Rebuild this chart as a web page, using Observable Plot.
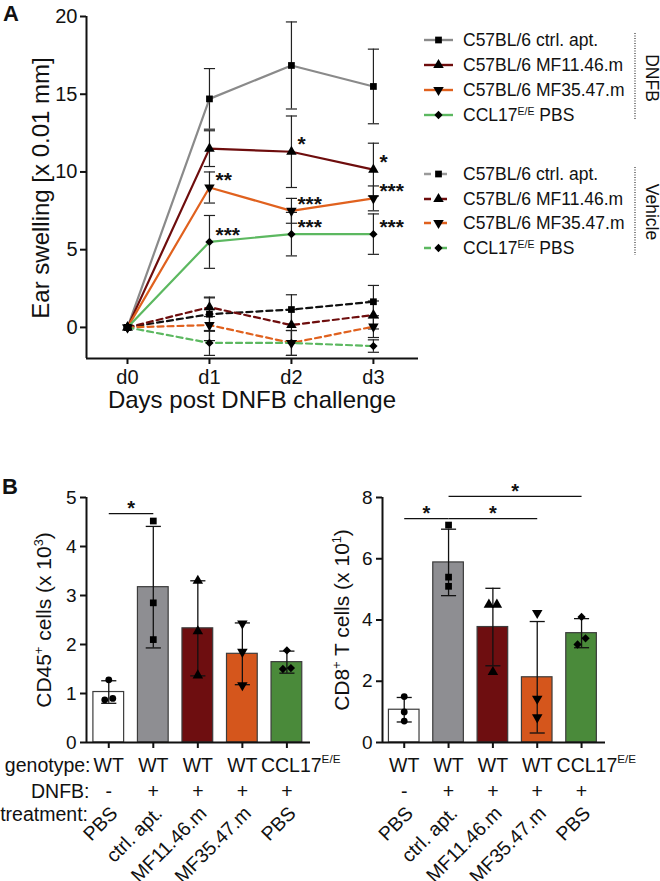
<!DOCTYPE html>
<html><head><meta charset="utf-8">
<script src="https://cdn.jsdelivr.net/npm/d3@7"></script>
<script src="https://cdn.jsdelivr.net/npm/@observablehq/plot@0.6"></script>
<style>
body{margin:0;background:#fff;}
#fig{position:relative;width:660px;height:881px;font-family:'Liberation Sans',Arial,Helvetica,sans-serif;overflow:hidden;background:#fff;color:#111;}
.abs{position:absolute;line-height:1;white-space:nowrap;}
.c{transform:translate(-50%,-50%);}
.l{transform:translate(0,-50%);}
.rot{transform:translate(-50%,-50%) rotate(-90deg);}
.vert{writing-mode:vertical-rl;transform:translate(-50%,-50%);}
sup{font-size:0.6em;line-height:0;vertical-align:0.6em;}
svg{overflow:visible;}
</style></head><body><div id="fig"></div>
<script>
const FONT = "'Liberation Sans', Arial, Helvetica, sans-serif";

// ---------- Panel A data ----------
const days = ["d0", "d1", "d2", "d3"];
const seriesLabels = ["C57BL/6 ctrl. apt.", "C57BL/6 MF11.46.m", "C57BL/6 MF35.47.m", "CCL17^{E/E} PBS"];
const dnfbColors = ["#8a8a8a", "#6e0d0d", "#e0611e", "#5cb860"];
const vehicleColors = ["#111111", "#6e0d0d", "#e0611e", "#5cb860"];
const vehicleLegendColors = ["#9a9a9a", "#6e0d0d", "#e0611e", "#5cb860"];

const dnfbCtrl = [0, 14.7, 16.85, 15.5];   const dnfbCtrlSd = [0, 1.95, 2.8, 2.4];
const dnfbMF11 = [0, 11.5, 11.3, 10.15];   const dnfbMF11Sd = [0, 1.15, 2.3, 1.7];
const dnfbMF35 = [0, 9.0, 7.5, 8.3];       const dnfbMF35Sd = [0, 1.0, 0.8, 0.8];
const dnfbCCL  = [0, 5.5, 6.0, 6.0];       const dnfbCCLSd  = [0, 1.7, 1.4, 1.3];
const vehCtrl  = [0, 0.85, 1.15, 1.65];    const vehCtrlSd  = [0, 1.1, 0.95, 1.05];
const vehMF11  = [0, 1.3, 0.15, 0.8];      const vehMF11Sd  = [0, 0.6, 1.0, 0.9];
const vehMF35  = [0, 0.15, -1.0, 0.05];    const vehMF35Sd  = [0, 1.0, 0.8, 0.7];
const vehCCL   = [0, -1.0, -1.0, -1.2];    const vehCCLSd   = [0, 0.8, 0.8, 0.4];

const starSeries = ["dMF35", "dCCL", "dMF11", "dMF35", "dCCL", "dMF11", "dMF35", "dCCL"];
const starDays   = [1, 1, 2, 2, 2, 3, 3, 3];
const starText   = ["**", "***", "*", "***", "***", "*", "***", "***"];

// ---------- Panel B data ----------
const genotypes  = ["WT", "WT", "WT", "WT", "CCL17^{E/E}"];
const dnfbSigns  = ["-", "+", "+", "+", "+"];
const treatments = ["PBS", "ctrl. apt.", "MF11.46.m", "MF35.47.m", "PBS"];
const barColors  = ["#ffffff", "#8e8e92", "#6e0e10", "#d5561c", "#4a8a3a"];

const cd45Mean   = [1.03, 3.17, 2.33, 1.81, 1.64];
const cd45Sd     = [0.23, 1.24, 0.97, 0.63, 0.225];
const cd45Points = [[1.28, 0.87, 0.9], [4.52, 2.85, 2.1], [3.3, 2.27, 1.37], [2.43, 1.85, 1.17], [1.88, 1.5, 1.52]];
const cd45SigFrom = [0], cd45SigTo = [1], cd45SigY = [4.67];

const cd8Mean   = [1.07, 5.88, 3.77, 2.13, 3.57];
const cd8Sd     = [0.4, 1.085, 1.265, 1.82, 0.475];
const cd8Points = [[1.5, 1.0, 0.7], [7.1, 5.4, 5.1], [4.5, 4.5, 2.3], [4.23, 1.43, 0.82], [4.1, 3.2, 3.4]];
const cd8SigFrom = [0, 1, 1], cd8SigTo = [1, 3, 4], cd8SigY = [7.31, 7.31, 8.04];

// ---------- helpers ----------
const symDefs = [
  {symbol: "square", rotate: 0, r: 3.8},
  {symbol: "triangle", rotate: 0, r: 3.9},
  {symbol: "triangle", rotate: 180, r: 3.9},
  {symbol: "square", rotate: 45, r: 3.3}
];
const symDefsB = [{symbol: "circle", rotate: 0, r: 3.4}, ...symDefs];

function richify(svg, size) {
  d3.select(svg).selectAll("text").each(function () {
    const s = this.textContent;
    if (!s.includes("^{")) return;
    const sel = d3.select(this);
    sel.text(null);
    const up = 0.42 * size;
    const re = /\^\{([^}]*)\}/g;
    let last = 0, m, shifted = false;
    while ((m = re.exec(s))) {
      if (m.index > last) { sel.append("tspan").attr("dy", shifted ? up + "px" : null).text(s.slice(last, m.index)); shifted = false; }
      sel.append("tspan").attr("dy", (-up) + "px").attr("font-size", (0.6 * size) + "px").text(m[1]);
      shifted = true; last = re.lastIndex;
    }
    if (last < s.length) sel.append("tspan").attr("dy", shifted ? up + "px" : null).text(s.slice(last));
  });
}
const toHtml = s => s.replace(/\^\{([^}]*)\}/g, "<sup>$1</sup>");

const fig = document.getElementById("fig");
function place(el, left, top) { el.style.position = "absolute"; el.style.left = left + "px"; el.style.top = top + "px"; fig.appendChild(el); }
function html(txt, cls, x, y, size, weight) {
  const d = document.createElement("div");
  d.className = "abs " + cls; d.innerHTML = txt;
  d.style.left = x + "px"; d.style.top = y + "px"; d.style.fontSize = size + "px";
  if (weight) d.style.fontWeight = weight;
  fig.appendChild(d);
}

// ---------- Panel A ----------
const seriesA = [
  {key: "dCtrl", group: "DNFB", s: 0, mean: dnfbCtrl, sd: dnfbCtrlSd, color: dnfbColors[0]},
  {key: "dMF11", group: "DNFB", s: 1, mean: dnfbMF11, sd: dnfbMF11Sd, color: dnfbColors[1]},
  {key: "dMF35", group: "DNFB", s: 2, mean: dnfbMF35, sd: dnfbMF35Sd, color: dnfbColors[2]},
  {key: "dCCL",  group: "DNFB", s: 3, mean: dnfbCCL,  sd: dnfbCCLSd,  color: dnfbColors[3]},
  {key: "vCtrl", group: "Vehicle", s: 0, mean: vehCtrl, sd: vehCtrlSd, color: vehicleColors[0]},
  {key: "vMF11", group: "Vehicle", s: 1, mean: vehMF11, sd: vehMF11Sd, color: vehicleColors[1]},
  {key: "vMF35", group: "Vehicle", s: 2, mean: vehMF35, sd: vehMF35Sd, color: vehicleColors[2]},
  {key: "vCCL",  group: "Vehicle", s: 3, mean: vehCCL,  sd: vehCCLSd,  color: vehicleColors[3]}
];
const rowsA = seriesA.flatMap(S => S.mean.map((v, j) => ({key: S.key, group: S.group, s: S.s, color: S.color, day: j, value: v, sd: S.sd[j]})));
const errA = rowsA.filter(d => d.sd > 0);
const starsA = starText.map((t, k) => {
  const r = rowsA.find(d => d.key === starSeries[k] && d.day === starDays[k]);
  return {day: r.day, value: r.value, t};
});
const capW = 0.068;

const plotA = Plot.plot({
  width: 430, height: 420,
  marginLeft: 86, marginTop: 16, marginBottom: 62, marginRight: 12,
  x: {domain: [-0.5, 3.55]},
  y: {domain: [-2, 20]},
  color: {type: "identity"},
  style: {fontFamily: FONT, fontSize: "20px", background: "transparent", color: "#111", overflow: "visible"},
  marks: [
    Plot.ruleX(errA, {x: "day", y1: d => d.value - d.sd, y2: d => d.value + d.sd, stroke: "#222", strokeWidth: 1.2}),
    Plot.link(errA, {x1: d => d.day - capW, x2: d => d.day + capW, y1: d => d.value + d.sd, y2: d => d.value + d.sd, stroke: "#222", strokeWidth: 1.2}),
    Plot.link(errA, {x1: d => d.day - capW, x2: d => d.day + capW, y1: d => d.value - d.sd, y2: d => d.value - d.sd, stroke: "#222", strokeWidth: 1.2}),
    Plot.line(rowsA.filter(d => d.group === "Vehicle"), {x: "day", y: "value", z: "key", stroke: "color", strokeWidth: 2.2, strokeDasharray: "6,4"}),
    Plot.line(rowsA.filter(d => d.group === "DNFB"), {x: "day", y: "value", z: "key", stroke: "color", strokeWidth: 2.2}),
    ...symDefs.map((sd, k) => Plot.dot(rowsA.filter(d => d.s === k), {x: "day", y: "value", symbol: sd.symbol, rotate: sd.rotate, r: sd.r, fill: "#000"})),
    Plot.text(starsA, {x: "day", y: "value", text: "t", textAnchor: "start", lineAnchor: "middle", dx: 6, dy: -7, fontSize: 21, fontWeight: "bold"}),
    Plot.ruleX([-0.5], {stroke: "#111", strokeWidth: 2}),
    Plot.ruleY([-2], {stroke: "#111", strokeWidth: 2}),
    Plot.axisY({ticks: [0, 5, 10, 15, 20], tickFormat: d3.format("d"), tickSize: 6, tickPadding: 3, fontSize: 20, strokeWidth: 2, label: null}),
    Plot.axisX({ticks: [0, 1, 2, 3], tickFormat: i => days[i], tickSize: 6, tickPadding: 5, fontSize: 20, strokeWidth: 2, label: null})
  ]
});
place(plotA, 0, 0);

// ---------- Legend ----------
const LEGFS = 17.5;
const leg = d3.create("svg").attr("width", 260).attr("height", 270).style("overflow", "visible");
const legY = [[40, 65, 90, 115], [174, 199, 223, 248]];
[0, 1].forEach(g => {
  seriesLabels.forEach((lab, k) => {
    const y = legY[g][k];
    const col = g === 0 ? dnfbColors[k] : vehicleLegendColors[k];
    leg.append("line").attr("x1", 24).attr("x2", 53).attr("y1", y).attr("y2", y)
      .attr("stroke", col).attr("stroke-width", 2.4).attr("stroke-dasharray", g === 0 ? null : "7,9");
    const sd = symDefs[k];
    const sym = sd.symbol === "square" ? d3.symbolSquare : d3.symbolTriangle;
    leg.append("path").attr("d", d3.symbol(sym, Math.PI * sd.r * sd.r)())
      .attr("transform", `translate(38.5,${y}) rotate(${sd.rotate})`).attr("fill", "#000");
    html(toHtml(lab), "l", 463, y + 1, LEGFS);
  });
});
leg.append("line").attr("x1", 235).attr("x2", 235).attr("y1", 33).attr("y2", 120).attr("stroke", "#333").attr("stroke-width", 1.2).attr("stroke-dasharray", "1,1.5");
leg.append("line").attr("x1", 235).attr("x2", 235).attr("y1", 167).attr("y2", 255).attr("stroke", "#333").attr("stroke-width", 1.2).attr("stroke-dasharray", "1,1.5");
place(leg.node(), 400, 0);
html("DNFB", "vert", 651, 78, LEGFS);
html("Vehicle", "vert", 651, 212, LEGFS);

// ---------- Panel B ----------
const ROWFS = 19.5;
function panelB({mean, sd, points, yMax, yTicks, xDomain, marginLeft, marginRight, sigFrom, sigTo, sigY, rowLabels, cclDx}) {
  const bars = mean.map((m, i) => ({i, mean: m, sd: sd[i], color: barColors[i], geno: genotypes[i], sign: dnfbSigns[i], treat: treatments[i]}));
  const pxPerUnit = 245 / yMax;
  const jit = 0.09;
  const pts = points.flatMap((arr, i) => arr.map((v, k) => {
    let off = 0;
    arr.forEach((w, l) => { if (l !== k && Math.abs(w - v) * pxPerUnit < 8) off = l > k ? -jit : jit; });
    return {i, x: i + off, v, s: i};
  }));
  const sig = sigFrom.map((a, k) => ({a, b: sigTo[k], y: sigY[k], mid: (a + sigTo[k]) / 2}));
  const half = 0.345, cap = 0.17;
  const wide = bars.filter(d => d.geno.includes("^"));
  const narrow = bars.filter(d => !d.geno.includes("^"));
  const marks = [
    Plot.rectY(bars, {x1: d => d.i - half, x2: d => d.i + half, y1: 0, y2: "mean", fill: "color", stroke: "#3c3c3c", strokeWidth: 1.2}),
    Plot.ruleX(bars, {x: "i", y1: d => d.mean - d.sd, y2: d => d.mean + d.sd, stroke: "#111", strokeWidth: 1.3}),
    Plot.link(bars, {x1: d => d.i - cap, x2: d => d.i + cap, y1: d => d.mean + d.sd, y2: d => d.mean + d.sd, stroke: "#111", strokeWidth: 1.3}),
    Plot.link(bars, {x1: d => d.i - cap, x2: d => d.i + cap, y1: d => d.mean - d.sd, y2: d => d.mean - d.sd, stroke: "#111", strokeWidth: 1.3}),
    ...symDefsB.map((sdf, k) => Plot.dot(pts.filter(d => d.s === k), {x: "x", y: "v", symbol: sdf.symbol, rotate: sdf.rotate, r: sdf.r, fill: "#000"})),
    Plot.link(sig, {x1: "a", x2: "b", y1: "y", y2: "y", stroke: "#111", strokeWidth: 1.2}),
    Plot.text(sig, {x: "mid", y: "y", text: () => "*", lineAnchor: "middle", dy: -5, fontSize: 20, fontWeight: "bold"}),
    Plot.ruleX([xDomain[0]], {stroke: "#111", strokeWidth: 2}),
    Plot.ruleY([0], {stroke: "#111", strokeWidth: 2}),
    Plot.axisY({ticks: yTicks, tickFormat: d3.format("d"), tickSize: 6, tickPadding: 4, fontSize: 19, strokeWidth: 2, label: null}),
    Plot.axisX({ticks: [0, 1, 2, 3, 4], tickSize: 6, tickFormat: () => "", strokeWidth: 2, label: null}),
    Plot.text(narrow, {x: "i", text: "geno", frameAnchor: "bottom", lineAnchor: "bottom", dy: 29, fontSize: ROWFS}),
    Plot.text(wide, {x: "i", text: "geno", frameAnchor: "bottom", lineAnchor: "bottom", textAnchor: "start", dx: cclDx, dy: 29, fontSize: ROWFS}),
    Plot.text(bars, {x: "i", text: "sign", frameAnchor: "bottom", lineAnchor: "bottom", dy: 55, fontSize: ROWFS}),
    Plot.text(bars, {x: "i", text: "treat", frameAnchor: "bottom", lineAnchor: "bottom", textAnchor: "end", rotate: -45, dx: 10, dy: 72, fontSize: ROWFS})
  ];
  if (rowLabels) {
    marks.push(Plot.text(["genotype:"], {text: d => d, frameAnchor: "bottom-left", textAnchor: "end", lineAnchor: "bottom", dx: 4, dy: 29, fontSize: ROWFS}));
    marks.push(Plot.text(["DNFB:"], {text: d => d, frameAnchor: "bottom-left", textAnchor: "end", lineAnchor: "bottom", dx: 3, dy: 55, fontSize: ROWFS}));
    marks.push(Plot.text(["treatment:"], {text: d => d, frameAnchor: "bottom-left", textAnchor: "end", lineAnchor: "bottom", dx: 1.5, dy: 78, fontSize: ROWFS}));
  }
  const p = Plot.plot({
    width: 330, height: 421, marginTop: 37, marginBottom: 139, marginLeft, marginRight,
    x: {domain: xDomain}, y: {domain: [0, yMax]},
    color: {type: "identity"},
    style: {fontFamily: FONT, fontSize: "19px", background: "transparent", color: "#111", overflow: "visible"},
    marks
  });
  richify(p, ROWFS);
  return p;
}

const plotB1 = panelB({mean: cd45Mean, sd: cd45Sd, points: cd45Points, yMax: 5, yTicks: [0, 1, 2, 3, 4, 5],
  xDomain: [-0.5, 4.53], marginLeft: 86, marginRight: 20, sigFrom: cd45SigFrom, sigTo: cd45SigTo, sigY: cd45SigY, rowLabels: true, cclDx: -26});
place(plotB1, 0, 460);
const plotB2 = panelB({mean: cd8Mean, sd: cd8Sd, points: cd8Points, yMax: 8, yTicks: [0, 2, 4, 6, 8],
  xDomain: [-0.49, 4.54], marginLeft: 52, marginRight: 55, sigFrom: cd8SigFrom, sigTo: cd8SigTo, sigY: cd8SigY, rowLabels: false, cclDx: -25});
place(plotB2, 330, 460);

// ---------- titles ----------
html("A", "", 3, 3, 22, "bold");
html("B", "", 2, 476, 22, "bold");
html("Ear swelling [x 0.01 mm]", "rot", 41, 188, 24);
html("Days post DNFB challenge", "c", 252, 400, 24);
html("CD45<sup>+</sup> cells (x 10<sup>3</sup>)", "rot", 43, 620, 21);
html("CD8<sup>+</sup> T cells (x 10<sup>1</sup>)", "rot", 341, 620, 21);
</script></body></html>
